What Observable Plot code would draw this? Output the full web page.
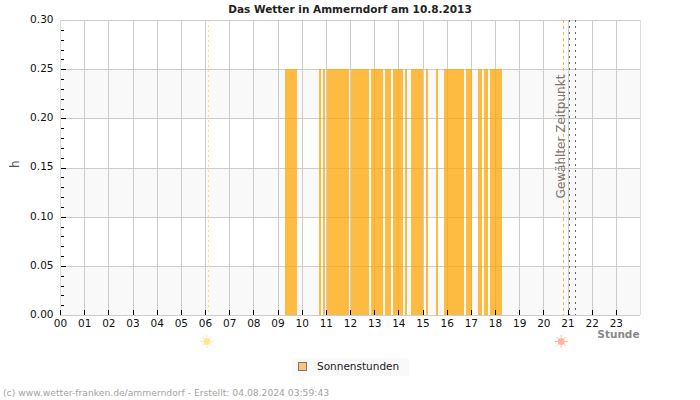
<!DOCTYPE html>
<html>
<head>
<meta charset="utf-8">
<script src="https://cdn.jsdelivr.net/npm/d3@7"></script>
<script src="https://cdn.jsdelivr.net/npm/@observablehq/plot@0.6"></script>
<style>
  html, body { margin: 0; background: #fff; font-family: "DejaVu Sans", sans-serif; }
  #page { position: relative; width: 700px; height: 400px; overflow: hidden; }
  #title { height: 14px; line-height: 18px; text-align: center; font-size: 10.5px; font-weight: bold; color: #222; }
  svg { display: block; }
  #legend { box-sizing: border-box; margin: 6px 0 0 292px; width: 117px; height: 18px; line-height: 17px; background: #f9f9f9; font-size: 10.5px; color: #222; padding-left: 6px; }
  #legend i { display: inline-block; box-sizing: border-box; width: 9px; height: 9px; margin-right: 10px; background: #fdc675; border: 1px solid #777; vertical-align: -1px; }
  #footer { margin: 11px 0 0 3px; line-height: 12px; font-size: 9.2px; color: #a3a3a3; white-space: nowrap; }
</style>
</head>
<body>
<div id="page">
  <div id="title"></div>
  <div id="chart"></div>
  <div id="legend"><i></i><span id="legendLabel"></span></div>
  <div id="footer"></div>
</div>
<script>
const titleText = "Das Wetter in Ammerndorf am 10.8.2013";
const seriesName = "Sonnenstunden";
const footerText = "(c) www.wetter-franken.de/ammerndorf - Erstellt: 04.08.2024 03:59:43";
const selectedLabel = "Gewählter Zeitpunkt";

// Sunshine periods of the day, in decimal hours, each reaching the same height
const sunStart = [9.31, 10.72, 10.88, 11.06, 12.04, 12.87, 13.45, 13.78, 14.28, 14.52, 15.14, 15.56, 15.89, 16.80, 17.30, 17.55, 17.79];
const sunEnd   = [9.81, 10.81, 10.98, 11.96, 12.78, 13.37, 13.70, 14.19, 14.36, 15.03, 15.23, 15.64, 16.72, 17.05, 17.46, 17.71, 18.29];
const sunValue = 0.25;

const hours = d3.range(0, 24);
const hourLabels = hours.map(h => String(h).padStart(2, "0"));
const yMajor = [0, 0.05, 0.10, 0.15, 0.20, 0.25, 0.30];
const yMinor = d3.range(1, 30).map(i => i / 100).filter(v => Math.round(v * 100) % 5 !== 0);
const bandLow = [0, 0.10, 0.20];
const bandHigh = [0.05, 0.15, 0.25];

const sunrise = 6.14;
const sunset = 20.80;
const selectedTimes = [21.06, 21.33];

const sunshine = sunStart.map((s, i) => ({start: s, end: sunEnd[i], value: sunValue}));
const bands = bandLow.map((b, i) => ({low: b, high: bandHigh[i]}));
const sunMarks = [
  {hour: sunrise, core: "#ffe79a"},
  {hour: sunset, core: "#ffb3a0"}
];

// Eight-armed sun glyph for the sunrise and sunset markers
const sunRays = {
  draw(ctx, size) {
    const r = Math.sqrt(size / Math.PI);
    for (let i = 0; i < 8; i++) {
      const a = i * Math.PI / 4;
      ctx.moveTo(Math.cos(a) * r * 0.6, Math.sin(a) * r * 0.6);
      ctx.lineTo(Math.cos(a) * r, Math.sin(a) * r);
    }
  }
};

document.getElementById("title").textContent = titleText;
document.getElementById("legendLabel").textContent = seriesName;
document.getElementById("footer").textContent = footerText;

const crisp = {shapeRendering: "crispEdges"};

const chart = Plot.plot({
  width: 700,
  height: 338,
  marginTop: 6,
  marginBottom: 37,
  marginLeft: 60,
  marginRight: 60,
  style: {fontFamily: "DejaVu Sans, sans-serif", overflow: "visible", background: "transparent"},
  x: {domain: [0, 24]},
  y: {domain: [0, 0.30]},
  marks: [
    Plot.rectY(bands, {x1: 0, x2: 24, y1: "low", y2: "high", fill: "#f9f9f9", ...crisp}),
    Plot.ruleX(hours.concat(24), {x: d => d, stroke: "#cccccc", strokeWidth: 1, ...crisp}),
    Plot.ruleY(yMajor, {y: d => d, stroke: "#cccccc", strokeWidth: 1, ...crisp}),
    Plot.ruleX([0, 24], {x: d => d, stroke: "#dddddd", strokeWidth: 1, ...crisp}),

    Plot.rectY(sunshine, {x1: "start", x2: "end", y1: 0, y2: "value", fill: "#ffa500", fillOpacity: 0.74, ...crisp}),

    // Inward tick marks along both axes
    Plot.ruleX(hours, {x: d => d, y1: 0, y2: 0.005, stroke: "#000", strokeWidth: 1, ...crisp}),
    Plot.ruleY(yMajor.slice(1, -1), {y: d => d, x1: 0.04, x2: 0.25, stroke: "#000", strokeWidth: 1, ...crisp}),
    Plot.ruleY(yMinor, {y: d => d, x1: 0.04, x2: 0.17, stroke: "#000", strokeWidth: 1, ...crisp}),

    // Sunrise, sunset and the selected moment
    Plot.ruleX([sunrise], {x: d => d, stroke: "#ffe45c", strokeWidth: 1, strokeDasharray: "2,3", ...crisp}),
    Plot.ruleX([sunset], {x: d => d, stroke: "#ffb030", strokeWidth: 1, strokeDasharray: "3,3", ...crisp}),
    Plot.ruleX(selectedTimes, {x: d => d, stroke: "#666", strokeWidth: 1, strokeDasharray: "2,4", ...crisp}),
    Plot.text([selectedLabel], {
      x: [20.73], y: [0.182], text: d => d, rotate: -90,
      fontSize: 12, fill: "#777", textAnchor: "middle"
    }),

    Plot.axisX(hours, {
      anchor: "bottom", tickSize: 0, tickPadding: 4, label: null,
      tickFormat: h => hourLabels[h], fontSize: 10.5, color: "#111"
    }),
    Plot.axisY(yMajor, {
      anchor: "left", tickSize: 0, tickPadding: 7, label: null, dy: -1,
      tickFormat: d3.format(".2f"), fontSize: 10.5, color: "#111"
    }),

    // Axis captions
    Plot.text(["Stunde"], {
      frameAnchor: "bottom-right", dy: 22, dx: -1, text: d => d,
      fontSize: 10.5, fontWeight: "bold", fill: "#888", textAnchor: "end"
    }),
    Plot.text(["h"], {
      frameAnchor: "left", dx: -45, text: d => d, rotate: -90,
      fontSize: 12, fill: "#555"
    }),

    // Sun symbols below the axis
    Plot.dot(sunMarks, {x: "hour", frameAnchor: "bottom", dx: -2, dy: 26, r: 6.5, symbol: sunRays, stroke: "core", strokeWidth: 1, fill: "none"}),
    Plot.dot(sunMarks, {x: "hour", frameAnchor: "bottom", dx: -2, dy: 26, r: 3.5, fill: "core"})
  ]
});
document.getElementById("chart").appendChild(chart);
</script>
</body>
</html>
